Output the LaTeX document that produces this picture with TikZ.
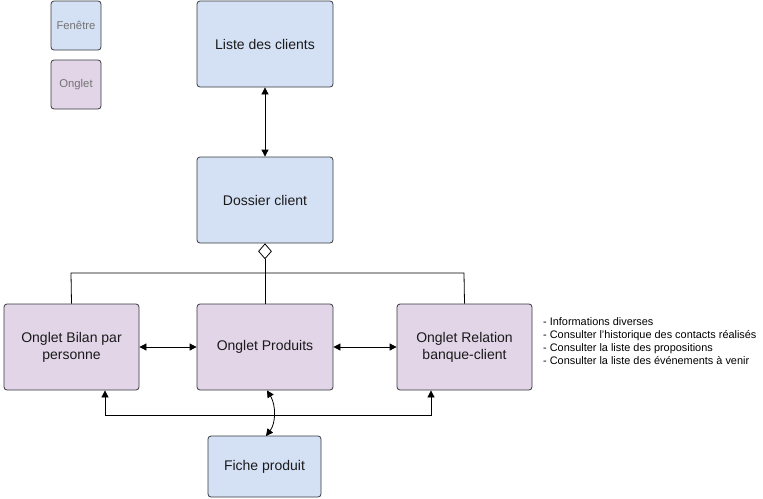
\documentclass[tikz,border=0pt]{standalone}
\usepackage{fontspec}
\setmainfont{Liberation Sans}
\usetikzlibrary{arrows.meta,shapes.geometric}
\definecolor{winfill}{HTML}{D4E1F5}
\definecolor{tabfill}{HTML}{E1D5E7}
\definecolor{bordercol}{HTML}{36393D}
\definecolor{txt}{HTML}{1A1A1A}
\begin{document}
\begin{tikzpicture}[x=1pt,y=-1pt,
  box/.style={draw=bordercol,line width=0.8pt,rounded corners=3pt,inner sep=0pt,align=center,
     font=\fontsize{14}{17}\selectfont,text=txt},
  winbox/.style={box,fill=winfill},
  tabbox/.style={box,fill=tabfill},
  legend/.style={font=\fontsize{11.3}{13}\selectfont,text=black!55},
  conn/.style={line width=0.8pt,black},
  dbl/.style={conn,{Triangle[length=7pt,width=7pt]}-{Triangle[length=7pt,width=7pt]}}]
\useasboundingbox (0,0) rectangle (763,498);
% legend
\node[winbox,legend,minimum width=50pt,minimum height=49pt] (lw) at (76,25.5) {Fenêtre};
\node[tabbox,legend,minimum width=50pt,minimum height=49pt] (lt) at (76,84.5) {Onglet};
% main boxes
\node[winbox,minimum width=136pt,minimum height=86pt] (liste) at (265,44) {Liste des clients};
\node[winbox,minimum width=136pt,minimum height=86pt] (dossier) at (265,200) {Dossier client};
\node[tabbox,minimum width=135pt,minimum height=86pt] (bilan) at (71.5,347) {Onglet Bilan par\\personne};
\node[tabbox,minimum width=136pt,minimum height=86pt] (prod) at (265,347) {Onglet Produits};
\node[tabbox,minimum width=135pt,minimum height=86pt] (rel) at (464.5,347) {Onglet Relation\\banque-client};
\node[winbox,minimum width=113pt,minimum height=61pt] (fiche) at (264.5,466.5) {Fiche produit};
% note
\node[anchor=north west,align=left,inner sep=0pt,font=\fontsize{10.9}{13}\selectfont,text=black] (note) at (543,317)
 {- Informations diverses\\- Consulter l'historique des contacts réalisés\\- Consulter la liste des propositions\\- Consulter la liste des événements à venir};
% connectors
\draw[dbl] (liste.south) -- (dossier.north);
\node[draw=black,fill=white,diamond,line width=0.8pt,minimum width=13pt,minimum height=15pt,inner sep=0pt,anchor=north] (dia) at (dossier.south) {};
\coordinate (hl) at (71,273);
\coordinate (hr) at (464,273);
\draw[conn] (dia.south) -- (prod.north);
\draw[conn] (bilan.north) -- (hl) -- (hr) -- (rel.north);
\draw[dbl] (bilan.east) -- (prod.west);
\draw[dbl] (prod.east) -- (rel.west);
\coordinate (bl) at (105,415);
\coordinate (br) at (431,415);
\draw[dbl] (bilan.south -| bl) -- (bl) -- (br) -- (rel.south -| br);
\draw[dbl] (267,390.4) .. controls (276,405) and (276,423) .. (266,436);
\end{tikzpicture}
\end{document}
